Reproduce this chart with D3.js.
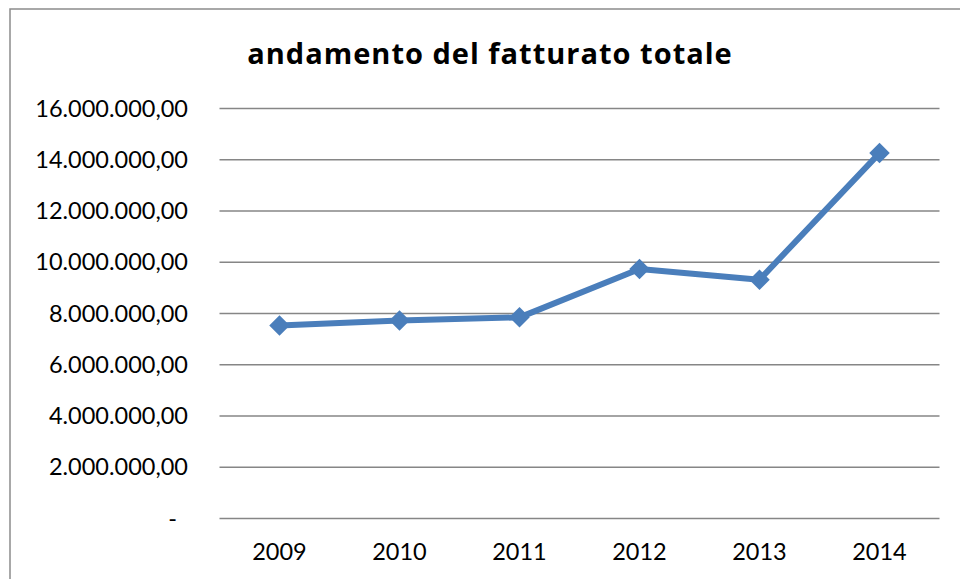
<!DOCTYPE html>
<html>
<head>
<meta charset="utf-8">
<script src="https://cdn.jsdelivr.net/npm/d3@7"></script>
<style>
  body { margin: 0; background: #fff; }
  text { font-family: Lato, "Open Sans", sans-serif; fill: #000; }
  text.title { font-family: "Open Sans", Lato, sans-serif; font-weight: bold; letter-spacing: 1px; }
</style>
</head>
<body>
<div id="chart"></div>
<script>
const WIDTH = 960
const HEIGHT = 579

const MARGIN = {
    TOP: 108.5,
    BOTTOM: 60.5,
    LEFT: 219.5,
    RIGHT: 20.5
}

const TITLE = "andamento del fatturato totale"
const YEARS = ["2009", "2010", "2011", "2012", "2013", "2014"]
const FATTURATO = [7530000, 7730000, 7850000, 9740000, 9320000, 14260000]
const Y_TICKS = [0, 2000000, 4000000, 6000000, 8000000, 10000000, 12000000, 14000000, 16000000]

const LINE_COLOR = "#4a7ebb"
const GRID_COLOR = "#868686"

const itLocale = d3.formatLocale({
    decimal: ",",
    thousands: ".",
    grouping: [3],
    currency: ["€", ""]
})
const fmt = itLocale.format(",.2f")

const svg = d3.select("#chart")
    .append("svg")
    .attr("width", WIDTH)
    .attr("height", HEIGHT)

// outer frame of the chart area
svg.append("rect")
    .attr("x", 10)
    .attr("y", 9)
    .attr("width", WIDTH)
    .attr("height", HEIGHT)
    .attr("fill", "none")
    .attr("stroke", "#8c8c8c")
    .attr("stroke-width", 1.5)

svg.append("text")
    .attr("class", "title")
    .attr("x", 490)
    .attr("y", 64)
    .attr("text-anchor", "middle")
    .attr("font-size", 29)
    .text(TITLE)

const x = d3.scaleBand()
    .domain(YEARS)
    .range([MARGIN.LEFT, WIDTH - MARGIN.RIGHT])

const y = d3.scaleLinear()
    .domain([0, 16000000])
    .range([HEIGHT - MARGIN.BOTTOM, MARGIN.TOP])

// horizontal gridlines
svg.append("g")
    .selectAll("line")
    .data(Y_TICKS)
    .join("line")
    .attr("x1", MARGIN.LEFT)
    .attr("x2", WIDTH - MARGIN.RIGHT)
    .attr("y1", d => y(d))
    .attr("y2", d => y(d))
    .attr("stroke", GRID_COLOR)
    .attr("stroke-width", 1.5)

// y labels
svg.append("g")
    .attr("font-size", 23.5)
    .attr("text-anchor", "end")
    .selectAll("text")
    .data(Y_TICKS)
    .join("text")
    .attr("x", d => d === 0 ? 177 : 188)
    .attr("y", d => y(d))
    .attr("dy", "0.35em")
    .text(d => d === 0 ? "-" : fmt(d))

// x labels
svg.append("g")
    .attr("font-size", 23.5)
    .attr("text-anchor", "middle")
    .selectAll("text")
    .data(YEARS)
    .join("text")
    .attr("x", d => x(d) + x.bandwidth() / 2)
    .attr("y", 552)
    .attr("dy", "0.35em")
    .text(d => d)

const data = YEARS.map((d, i) => ({ year: d, value: FATTURATO[i] }))

const line = d3.line()
    .x(d => x(d.year) + x.bandwidth() / 2)
    .y(d => y(d.value))

svg.append("path")
    .datum(data)
    .attr("d", line)
    .attr("fill", "none")
    .attr("stroke", LINE_COLOR)
    .attr("stroke-width", 6)
    .attr("stroke-linejoin", "round")

svg.append("g")
    .selectAll("path")
    .data(data)
    .join("path")
    .attr("d", d3.symbol(d3.symbolSquare, 210))
    .attr("transform", d => `translate(${x(d.year) + x.bandwidth() / 2}, ${y(d.value)}) rotate(45)`)
    .attr("fill", LINE_COLOR)
</script>
</body>
</html>
